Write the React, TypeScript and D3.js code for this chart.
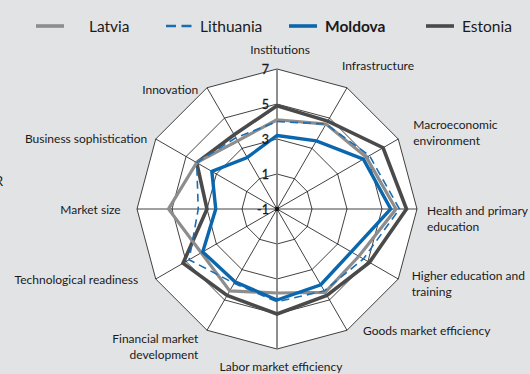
import { useRef, useEffect } from 'react';
import * as d3 from 'd3';

// pillars, clockwise from the top
const pillars = [
  ['Institutions'],
  ['Infrastructure'],
  ['Macroeconomic', 'environment'],
  ['Health and primary', 'education'],
  ['Higher education and', 'training'],
  ['Goods market efficiency'],
  ['Labor market efficiency'],
  ['Financial market', 'development'],
  ['Technological readiness'],
  ['Market size'],
  ['Business sophistication'],
  ['Innovation'],
];

const latvia = [4.1, 4.6, 4.9, 5.8, 4.4, 4.5, 3.8, 4.4, 4.0, 5.2, 4.3, 3.5];
const lithuania = [4.0, 4.6, 5.1, 6.0, 4.7, 4.4, 4.3, 3.9, 4.8, 3.5, 4.3, 3.7];
const moldova = [3.2, 3.5, 4.7, 5.5, 3.9, 4.0, 4.2, 3.8, 3.9, 2.5, 3.3, 2.4];
const estonia = [4.9, 4.8, 6.0, 6.4, 5.1, 4.7, 5.0, 4.7, 5.2, 3.0, 4.3, 3.9];

const ringValues = [1, 3, 5, 7];
const tickLabels = ['-1', '1', '3', '5', '7'];

const series = [
  { name: 'Estonia', values: estonia, color: '#4a4a4a', width: 3.6, dash: null, bold: false },
  { name: 'Latvia', values: latvia, color: '#8d8d8d', width: 3.2, dash: null, bold: false },
  { name: 'Lithuania', values: lithuania, color: '#1b6db3', width: 1.6, dash: '8,5', bold: false },
  { name: 'Moldova', values: moldova, color: '#0a67ad', width: 3.4, dash: null, bold: true },
];
const legendOrder = ['Latvia', 'Lithuania', 'Moldova', 'Estonia'];

// label offsets from each outer vertex: [dx, dy, anchor]
const labelLayout: [number, number, string][] = [
  [3, -15, 'middle'],
  [-5, -18, 'start'],
  [15, -10, 'start'],
  [10, 6, 'start'],
  [13.5, 1, 'start'],
  [16, 5, 'start'],
  [4, 22, 'middle'],
  [-8.7, 13, 'end'],
  [-17.5, 5, 'end'],
  [-16.3, 5, 'end'],
  [-8.5, 3.5, 'end'],
  [-8.7, 6, 'end'],
];
const legendLineX = [36, 166, 289, 426];
const legendTextX = [89, 200, 325, 462];

export default function App() {
  const svgRef = useRef<SVGSVGElement>(null);

  useEffect(() => {
    const W = 530;
    const H = 374;
    const cx = 277;
    const cy = 209;
    const font = 'Lato, "Open Sans", sans-serif';

    const svg = d3.select(svgRef.current).attr('width', W).attr('height', H);
    svg.selectAll('*').remove();

    svg.append('rect').attr('width', W).attr('height', H).attr('fill', '#e2e3e5');

    const rScale = d3.scaleLinear().domain([-1, 7]).range([0, 140]);
    const angle = d3
      .scaleLinear()
      .domain([0, pillars.length])
      .range([0, 2 * Math.PI]);

    const g = svg.append('g').attr('transform', `translate(${cx}, ${cy})`);

    const radial = d3
      .lineRadial<number>()
      .angle((_, i) => angle(i))
      .radius((d) => rScale(d))
      .curve(d3.curveLinearClosed);

    const pt = (i: number, v: number) => [
      rScale(v) * Math.sin(angle(i)),
      -rScale(v) * Math.cos(angle(i)),
    ];

    // white plot area
    g.append('path')
      .attr('d', radial(pillars.map(() => 7)))
      .attr('fill', '#fff');

    // rings
    g.selectAll('.ring')
      .data(ringValues)
      .join('path')
      .attr('class', 'ring')
      .attr('d', (v) => radial(pillars.map(() => v)))
      .attr('fill', 'none')
      .attr('stroke', '#111')
      .attr('stroke-width', 0.8);

    // spokes
    g.selectAll('.spoke')
      .data(pillars)
      .join('line')
      .attr('class', 'spoke')
      .attr('x1', 0)
      .attr('y1', 0)
      .attr('x2', (_, i) => pt(i, 7)[0])
      .attr('y2', (_, i) => pt(i, 7)[1])
      .attr('stroke', '#111')
      .attr('stroke-width', 0.8);

    // value axis (vertical, grey)
    g.append('line')
      .attr('x1', 0)
      .attr('x2', 0)
      .attr('y1', -rScale(7))
      .attr('y2', rScale(7))
      .attr('stroke', '#8a8a8a')
      .attr('stroke-width', 1.6);

    g.append('circle').attr('r', 2.2).attr('fill', '#111');

    // series
    series.forEach((s) => {
      g.append('path')
        .attr('d', radial(s.values))
        .attr('fill', 'none')
        .attr('stroke', s.color)
        .attr('stroke-width', s.width)
        .attr('stroke-linejoin', 'miter')
        .attr('stroke-dasharray', s.dash);
    });

    // tick labels
    g.selectAll('.tick')
      .data(tickLabels)
      .join('text')
      .attr('class', 'tick')
      .attr('x', -8)
      .attr('y', (d) => -rScale(+d) + 4.5)
      .attr('text-anchor', 'end')
      .attr('font-family', font)
      .attr('font-size', 12.5)
      .attr('fill', '#1a1a1a')
      .attr('stroke', '#1a1a1a')
      .attr('stroke-width', 0.3)
      .text((d) => d);

    // pillar labels
    pillars.forEach((lines, i) => {
      const [x, y] = pt(i, 7);
      const [dx, dy, anchor] = labelLayout[i];
      const t = g
        .append('text')
        .attr('x', x + dx)
        .attr('y', y + dy)
        .attr('text-anchor', anchor)
        .attr('font-family', font)
        .attr('font-size', 12)
        .attr('fill', '#1a1a1a');
      lines.forEach((line, j) => {
        t.append('tspan')
          .attr('x', x + dx)
          .attr('dy', j === 0 ? 0 : 16)
          .text(line);
      });
    });

    // stray cut-off text on the left edge
    svg
      .append('text')
      .attr('x', -5)
      .attr('y', 186)
      .attr('font-family', font)
      .attr('font-size', 13)
      .attr('fill', '#1a1a1a')
      .text('R');

    // legend
    const legend = svg.append('g');
    legendOrder.forEach((name, i) => {
      const s = series.find((d) => d.name === name)!;
      legend
        .append('line')
        .attr('x1', legendLineX[i])
        .attr('x2', legendLineX[i] + (s.dash ? 25.5 : 28))
        .attr('y1', 26)
        .attr('y2', 26)
        .attr('stroke', s.color)
        .attr('stroke-width', s.dash ? 2.4 : 3.6)
        .attr('stroke-dasharray', s.dash ? '10,5.5' : null);
      legend
        .append('text')
        .attr('x', legendTextX[i])
        .attr('y', 31.5)
        .attr('font-family', font)
        .attr('font-size', 15.5)
        .attr('font-weight', s.bold ? 'bold' : 'normal')
        .attr('fill', '#1a1a1a')
        .text(name);
    });
  }, []);

  return (
    <div style={{ position: 'absolute', left: 0, top: 0 }}>
      <svg ref={svgRef} />
    </div>
  );
}
